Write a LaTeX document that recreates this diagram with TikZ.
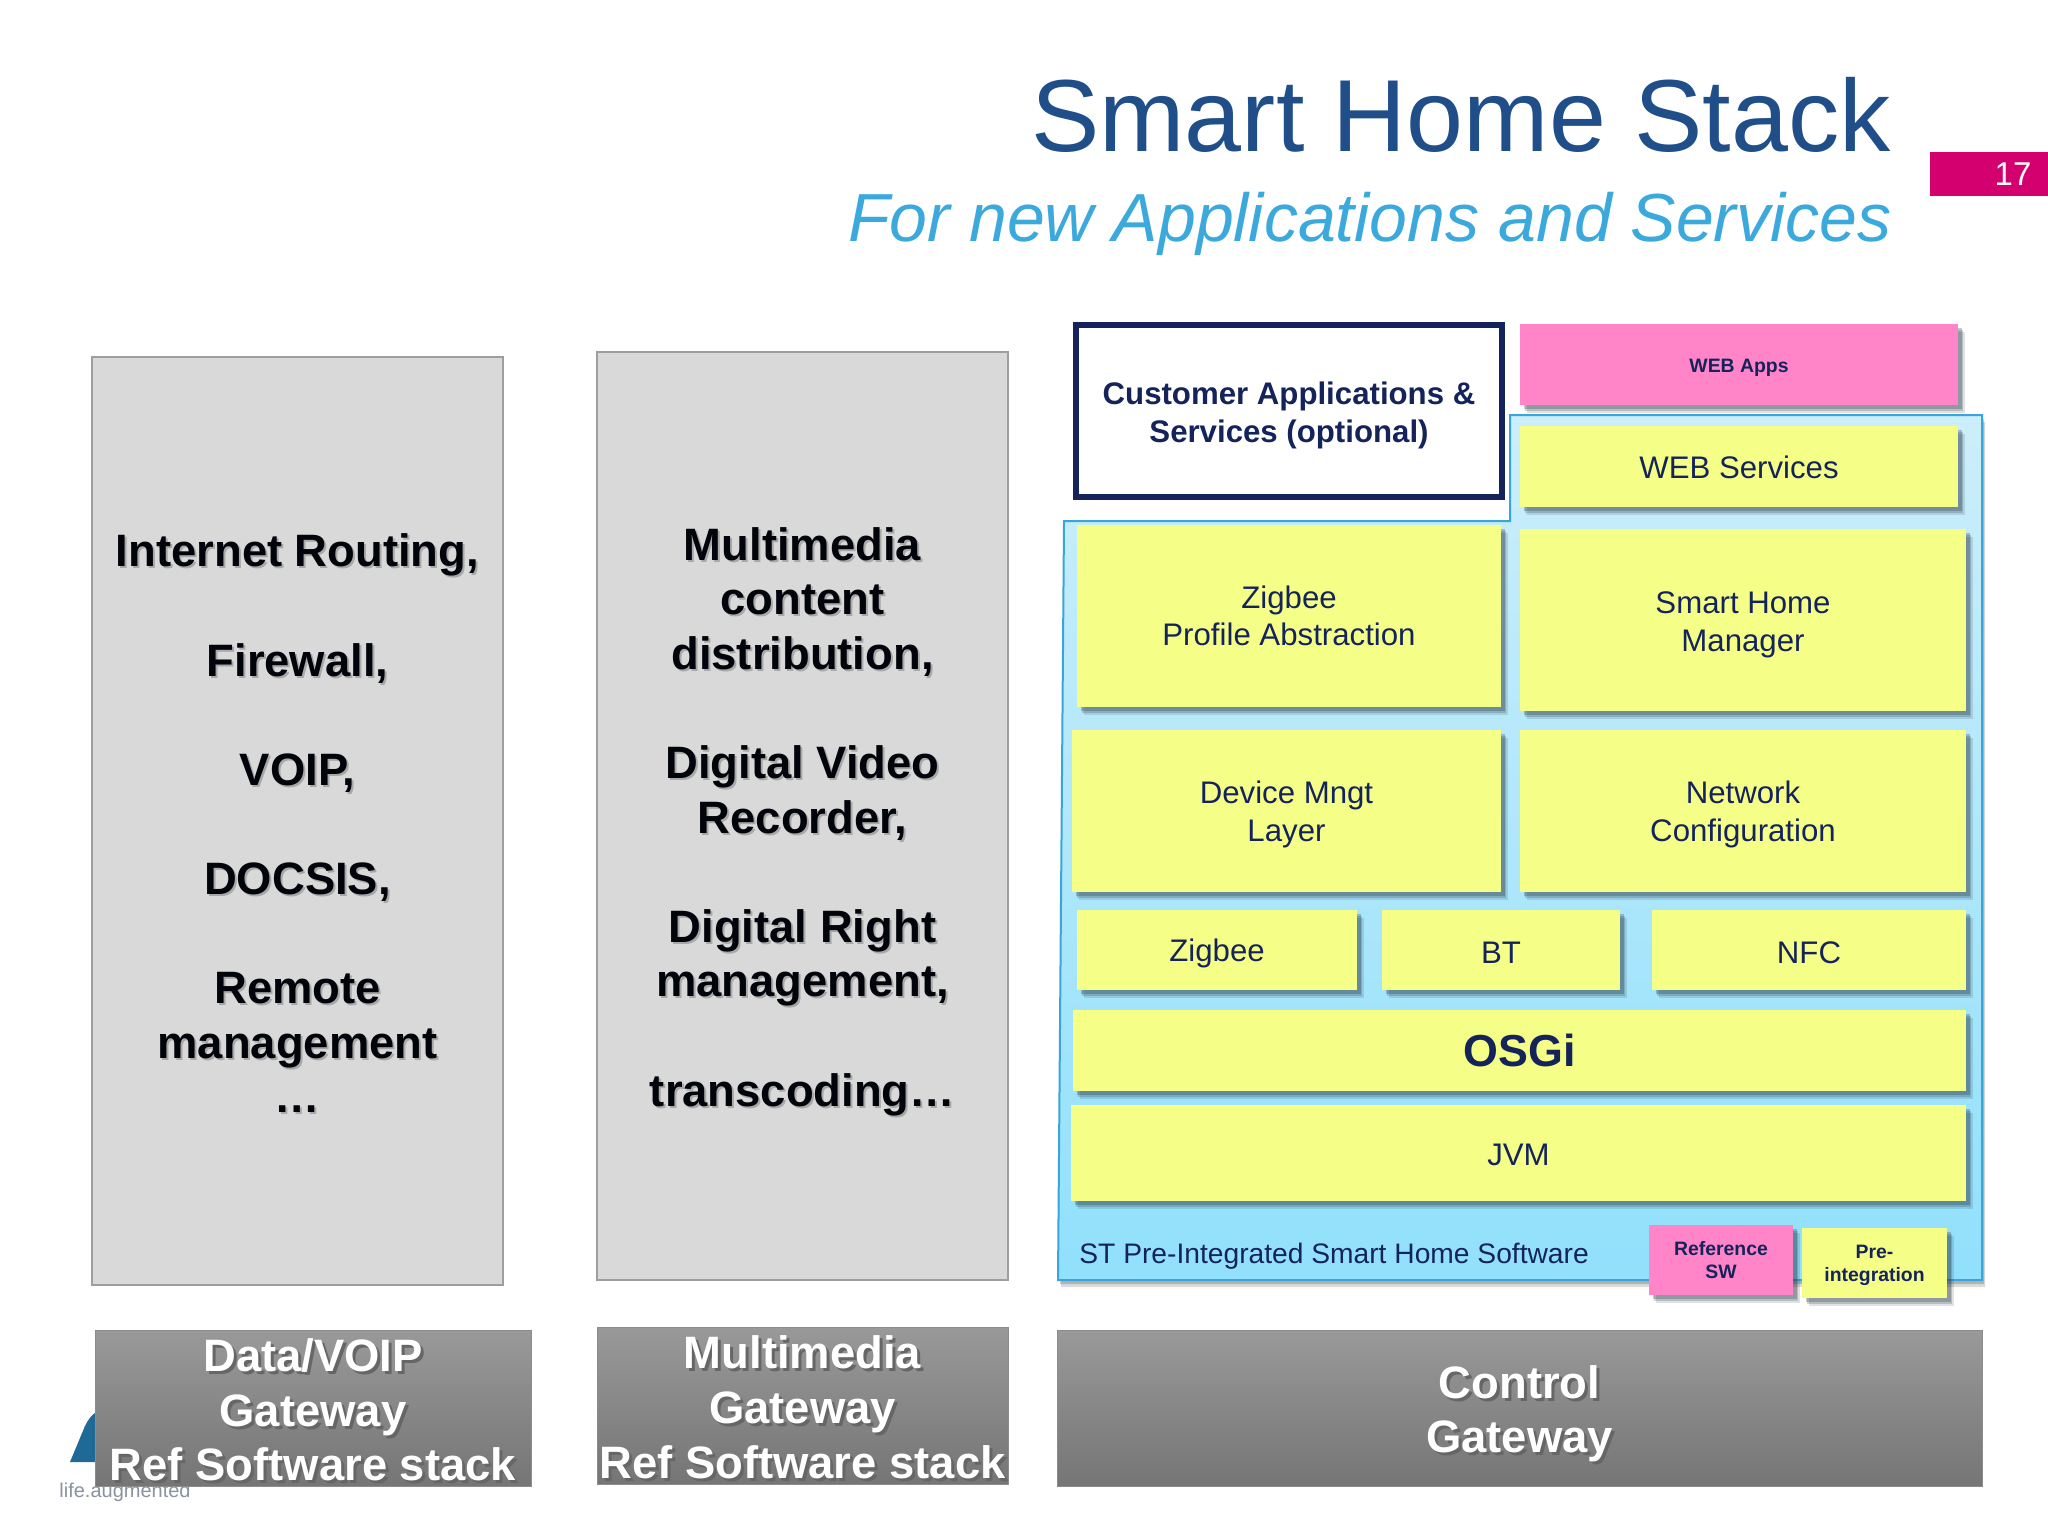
\documentclass[tikz,border=0pt]{standalone}
\usepackage{fontspec}
\setmainfont{Liberation Sans}
\usetikzlibrary{shadows}
\definecolor{navy}{HTML}{14245A}
\definecolor{yel}{HTML}{F5FF88}
\definecolor{pnk}{HTML}{FF85C8}
\definecolor{shcol}{HTML}{20303F}
\definecolor{titlecol}{HTML}{1F4E88}
\definecolor{subcol}{HTML}{3BA9DC}
\definecolor{badgecol}{HTML}{D4006F}
\definecolor{logocol}{HTML}{1E6996}
\definecolor{logotxt}{HTML}{8A93A0}
\definecolor{blueline}{HTML}{3AA5D8}
\definecolor{bluetop}{HTML}{CCEEFA}
\definecolor{bluebot}{HTML}{91E0FC}
\newcommand{\bx}[7][]{%
  \pgfmathsetmacro{\bxcx}{(#3+#5)/2}%
  \pgfmathsetmacro{\bxcy}{(#4+#6)/2}%
  \pgfmathsetmacro{\bxw}{(#5-#3)*0.5}%
  \pgfmathsetmacro{\bxh}{(#6-#4)*0.5}%
  \node[base box,#1,minimum width=\bxw pt,minimum height=\bxh pt] (#2) at (\bxcx,\bxcy) {#7};%
}
% \dn{n}: moves the text of a centred box down by about n reference pixels
\newcommand{\dn}[1]{\rule{0pt}{\dimexpr 0.74em+#1pt\relax}}
\newcommand{\stw}[1]{\leavevmode\rlap{\kern1.5pt\raisebox{-1.5pt}{\color{black!60}#1}}\textcolor{white}{#1}}
\newcommand{\stk}[1]{\leavevmode\rlap{\kern1pt\raisebox{-1pt}{\color{black!34}#1}}\textcolor{black!88!navy}{#1}}
\tikzset{
  x=0.5pt,y=-0.5pt,
  base box/.style={rectangle,inner sep=0pt,outer sep=0pt,align=center},
  softshadow/.style={
    general shadow={shadow xshift=3.4pt,shadow yshift=-3.8pt,fill=shcol,opacity=.14},
    general shadow={shadow xshift=2.6pt,shadow yshift=-3pt,fill=shcol,opacity=.2},
    general shadow={shadow xshift=1.8pt,shadow yshift=-2.2pt,fill=shcol,opacity=.26}},
  yellowbox/.style={softshadow,fill=yel,text=navy,font=\fontsize{15.6}{18.75}\selectfont},
  pinkbox/.style={softshadow,fill=pnk,text=navy},
  tinytext/.style={font=\fontsize{9.7}{11.7}\selectfont\bfseries},
  graybox/.style={fill=black!15,draw=black!38,line width=0.9pt,font=\fontsize{22.7}{27.3}\selectfont\bfseries},
  gatebox/.style={top color=black!40,bottom color=black!54,draw=black!45,line width=0.5pt,font=\fontsize{22.7}{27.3}\selectfont\bfseries},
}
\begin{document}
\begin{tikzpicture}
\useasboundingbox (0,0) rectangle (2048,1536);
\fill[white] (0,0) rectangle (2048,1536);
% title
\node[anchor=base east,inner sep=0pt,text=titlecol,font=\fontsize{51.2}{60}\selectfont] (title) at (1891,151) {Smart Home Stack};
\node[anchor=base east,inner sep=0pt,text=subcol,font=\fontsize{34}{40}\selectfont\itshape] (subtitle) at (1892,241) {For new Applications and Services};
\bx[fill=badgecol]{badge}{1930}{152}{2048}{196}{}
\node[inner sep=0pt,text=white,font=\fontsize{16.5}{20}\selectfont] (num) at (2013,174) {17};
% logo
\fill[logocol] (70,1462) -- (85,1426) .. controls (89,1418) and (93,1413) .. (100,1410) -- (100,1462) -- cycle;
\node[inner sep=0pt,text=logotxt,font=\fontsize{10}{12}\selectfont] (logotext) at (125,1492) {life.augmented};
% left columns
\bx[graybox]{left}{92}{357}{503}{1285}{%
\dn{3}\stk{Internet Routing,}\\ \mbox{}\\ \stk{Firewall,}\\ \mbox{}\\ \stk{VOIP,}\\ \mbox{}\\ \stk{DOCSIS,}\\ \mbox{}\\ \stk{Remote}\\ \stk{management}\\ \stk{…}}
\bx[graybox]{mid}{597}{352}{1008}{1280}{%
\dn{6}\stk{Multimedia}\\ \stk{content}\\ \stk{distribution,}\\ \mbox{}\\ \stk{Digital Video}\\ \stk{Recorder,}\\ \mbox{}\\ \stk{Digital Right}\\ \stk{management,}\\ \mbox{}\\ \stk{transcoding…}}
% blue region
\path[general shadow={shadow xshift=1.5pt,shadow yshift=-3.5pt,fill=black,opacity=.14},
      general shadow={shadow xshift=1pt,shadow yshift=-2pt,fill=black,opacity=.18},
      draw=blueline,line width=1pt,top color=bluetop,bottom color=bluebot]
  (1510,415) -- (1982,415) -- (1982,1280) -- (1058,1280) -- (1064,521) -- (1510,521) -- cycle;
% customer box
\bx[draw=navy,line width=3pt,fill=white,text=navy,font=\fontsize{15.6}{18.75}\selectfont\bfseries]{cust}{1076}{325}{1502}{497}{\dn{4}Customer Applications \&\\Services (optional)}
% stack
\bx[pinkbox,tinytext]{webapps}{1520}{324}{1958}{405}{\dn{3}WEB Apps}
\bx[yellowbox]{websvc}{1520}{426}{1958}{507}{\dn{1}WEB Services}
\bx[yellowbox]{zpa}{1077}{525}{1501}{707}{Zigbee\\Profile Abstraction}
\bx[yellowbox]{shm}{1520}{529}{1966}{711}{\dn{4}Smart Home\\Manager}
\bx[yellowbox]{dev}{1072}{730}{1501}{892}{\dn{3}Device Mngt\\Layer}
\bx[yellowbox]{net}{1520}{730}{1966}{892}{\dn{3}Network\\Configuration}
\bx[yellowbox]{zig}{1077}{910}{1357}{990}{\dn{3}Zigbee}
\bx[yellowbox]{bt}{1382}{910}{1620}{990}{\dn{2}BT}
\bx[yellowbox]{nfc}{1652}{910}{1966}{990}{\dn{2}NFC}
\bx[yellowbox,font=\fontsize{22.4}{26}\selectfont\bfseries]{osgi}{1073}{1010}{1966}{1091}{OSGi}
\bx[yellowbox]{jvm}{1071}{1105}{1966}{1201}{\dn{1}JVM}
\node[anchor=base west,inner sep=0pt,text=navy,font=\fontsize{14.1}{17}\selectfont] (st) at (1079,1263) {ST Pre-Integrated Smart Home Software};
\bx[pinkbox,tinytext]{refsw}{1649}{1225}{1793}{1295}{Reference\\SW}
\bx[softshadow,fill=yel,text=navy,tinytext]{preint}{1802}{1228}{1947}{1298}{\dn{2}Pre-\\integration}
% gateway labels
\bx[gatebox]{gw1}{95}{1330}{531}{1486}{\dn{3}\stw{Data/VOIP}\\ \stw{Gateway}\\ \stw{Ref Software stack}}
\bx[gatebox]{gw2}{597}{1327}{1008}{1484}{\dn{3}\stw{Multimedia}\\ \stw{Gateway}\\ \stw{Ref Software stack}}
\bx[gatebox]{gw3}{1057}{1330}{1982}{1486}{\dn{7}\stw{Control}\\ \stw{Gateway}}
\end{tikzpicture}
\end{document}
